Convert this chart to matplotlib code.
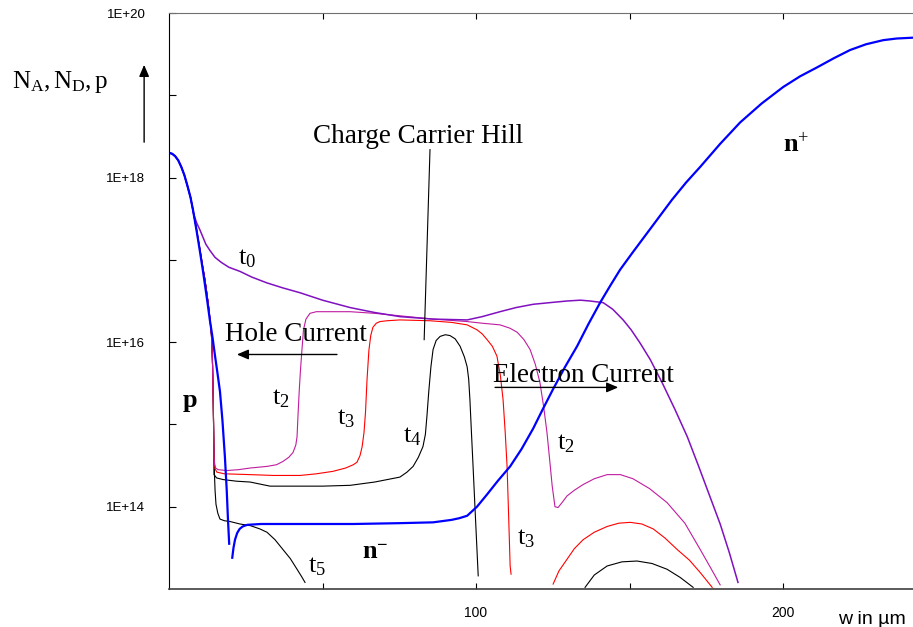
import numpy as np
import matplotlib
matplotlib.use("Agg")
import matplotlib.pyplot as plt

plt.rcParams['mathtext.fontset'] = 'custom'
plt.rcParams['mathtext.rm'] = 'Liberation Serif'
plt.rcParams['mathtext.it'] = 'Liberation Serif:italic'
plt.rcParams['mathtext.bf'] = 'Liberation Serif:bold'

SERIF = 'Liberation Serif'
SANS = 'Liberation Sans'

# ---------------- data (x in µm, y as log10 of concentration) ----------------
# doping profile N_A (p side)
dop_p_x = [0, 1, 2, 3, 4, 5, 6, 7, 7.8, 9, 10, 11, 11.7, 12.5, 13.3, 14.2, 15.0, 15.8, 16.6,
           17.4, 18.2, 18.8, 19.2, 19.6]
dop_p_y = [18.30, 18.29, 18.26, 18.21, 18.13, 18.03, 17.90, 17.76, 17.61, 17.35, 17.12, 16.88,
           16.70, 16.49, 16.27, 16.05, 15.83, 15.62, 15.40, 15.05, 14.61, 14.20, 13.85, 13.55]
# doping profile N_D (n- and n+ side)
dop_n_x = [20.6, 21.0, 21.5, 22.2, 23.0, 24, 25.5, 30, 40, 60, 75, 86, 92, 94.5, 97.1, 100.3,
           103.6, 107, 111.1, 114.8, 118.6, 121.8, 125.1, 129, 132.9, 136.6, 140.4, 143.6, 146.9,
           151, 155, 159.4, 163.8, 168.4, 173.0, 179.5, 186.0, 193, 200, 205.5, 211.1, 216.5,
           221.8, 227, 232.6, 237, 242.3]
dop_n_y = [13.38, 13.50, 13.60, 13.68, 13.73, 13.76, 13.78, 13.79, 13.79, 13.79, 13.80, 13.81,
           13.84, 13.86, 13.89, 14.00, 14.15, 14.31, 14.49, 14.70, 14.95, 15.19, 15.43, 15.70,
           15.95, 16.22, 16.48, 16.68, 16.88, 17.09, 17.29, 17.51, 17.73, 17.94, 18.13, 18.41,
           18.67, 18.90, 19.10, 19.23, 19.34, 19.45, 19.55, 19.62, 19.67, 19.69, 19.70]

# t0 (stationary on-state carrier distribution)
t0_x = [0, 1, 2, 3, 4, 5, 6, 7, 8, 9, 10, 11, 12, 13.4, 15, 17, 19.5, 23.1, 27, 31.9, 37, 42.7,
        50, 59, 67, 75.2, 86, 97.1, 102, 107.8, 113, 118.6, 124, 129.6, 134, 137.1, 141.4,
        144.5, 147.9, 150.5, 153.4, 156.7, 160.7, 164.8, 168.8, 172.5, 176, 179.5, 182.5, 185.3]
t0_y = [18.30, 18.29, 18.26, 18.21, 18.13, 18.03, 17.90, 17.76, 17.56, 17.45, 17.37, 17.28,
        17.19, 17.11, 17.03, 16.97, 16.91, 16.86, 16.79, 16.72, 16.66, 16.60, 16.51, 16.42,
        16.36, 16.31, 16.28, 16.27, 16.31, 16.37, 16.42, 16.46, 16.48, 16.50, 16.51, 16.50,
        16.48, 16.40, 16.27, 16.15, 15.99, 15.79, 15.50, 15.18, 14.85, 14.49, 14.14, 13.79,
        13.44, 13.08]

# common p-side part of the turn-off curves
pside_x = [0, 1, 2, 3, 4, 5, 6, 7, 7.8, 9, 10, 11, 11.7, 12.3, 12.8, 13.4, 13.8, 14.0, 14.2,
           14.4, 14.66]
pside_y = [18.30, 18.29, 18.26, 18.21, 18.13, 18.03, 17.90, 17.76, 17.61, 17.36, 17.14, 16.91,
           16.76, 16.60, 16.46, 16.26, 16.10, 15.95, 15.70, 15.30, 14.61]

t2_x = [14.8, 15.2, 16, 18.9, 22.6, 26.4, 31.9, 35, 37.1, 39, 40.4, 41.3, 41.7, 42.0, 42.4, 42.8,
        43.3, 43.8, 44.6, 45.9, 48, 50.2, 59, 67, 75.2, 86, 97.1, 102, 107.8, 111, 113.4, 115.6,
        117.6, 119.3, 120.8, 122, 123.1, 124, 124.8, 125.7, 126.7, 128, 129.6, 132, 134.9,
        138.5, 142.7, 147, 151.1, 156.5, 162.2, 168, 173.0, 176.5, 179.5]
t2_y = [14.52, 14.47, 14.45, 14.44, 14.45, 14.47, 14.49, 14.51, 14.55, 14.60, 14.66, 14.75,
        14.85, 15.10, 15.40, 15.65, 15.91, 16.15, 16.28, 16.35, 16.37, 16.37, 16.37, 16.35,
        16.32, 16.28, 16.25, 16.23, 16.21, 16.17, 16.12, 16.03, 15.91, 15.73, 15.51, 15.22,
        14.90, 14.56, 14.25, 14.00, 13.99, 14.05, 14.13, 14.20, 14.27, 14.34, 14.39, 14.39,
        14.34, 14.22, 14.05, 13.80, 13.48, 13.25, 13.05]

t3_x = [15.0, 15.6, 18, 26.4, 34, 42.7, 48, 53.4, 57.5, 60, 61.2, 62.2, 62.9, 63.5, 64.0, 64.5,
        65.1, 65.7, 66.4, 67.5, 68.7, 71, 75.2, 85, 92, 97.1, 100.3, 102, 103.6, 105.3, 106.8,
        107.9, 108.8, 109.5, 110.1, 110.6, 111.1, 111.4]
t3_y = [14.46, 14.42, 14.40, 14.39, 14.38, 14.38, 14.40, 14.43, 14.47, 14.51, 14.54, 14.62,
        14.73, 14.90, 15.15, 15.55, 15.90, 16.08, 16.18, 16.23, 16.25, 16.26, 16.27, 16.26,
        16.24, 16.21, 16.15, 16.10, 16.03, 15.95, 15.83, 15.60, 15.30, 14.90, 14.49, 13.90,
        13.28, 13.18]
t3_arc_x = [125.1, 127, 129.6, 132, 134.9, 138.5, 142.7, 146.5, 150.2, 154, 157.7, 161.5, 165.5,
            169.5, 173.0, 176.9]
t3_arc_y = [13.06, 13.22, 13.36, 13.49, 13.60, 13.69, 13.76, 13.80, 13.81, 13.79, 13.73, 13.62,
            13.48, 13.35, 13.20, 13.02]

t4_x = [14.66, 15.5, 17.6, 22, 26.4, 32.9, 42.7, 50, 59, 67, 75.2, 77.5, 79.5, 81.2, 82.7, 83.5,
        84.0, 84.6, 85.3, 86.0, 87, 88.3, 90, 91.5, 93.2, 94.8, 96.2, 97.1, 97.6, 98.0, 98.5,
        99.0, 99.8, 100.7]
t4_y = [14.39, 14.35, 14.33, 14.31, 14.30, 14.25, 14.25, 14.25, 14.26, 14.30, 14.36, 14.42,
        14.49, 14.60, 14.73, 14.88, 15.10, 15.40, 15.70, 15.91, 16.02, 16.07, 16.09, 16.08,
        16.04, 15.95, 15.82, 15.70, 15.55, 15.30, 14.90, 14.51, 13.87, 13.16]
t4_arc_x = [135.5, 138.5, 142.7, 147.5, 152.4, 157.3, 162.2, 166.5, 170.7]
t4_arc_y = [13.02, 13.17, 13.28, 13.33, 13.34, 13.31, 13.24, 13.14, 13.02]

t5_x = [14.8, 15.0, 15.3, 15.9, 16.6, 18, 19.9, 23.1, 26.5, 29.6, 31.9, 34.5, 37.1, 39.5, 41.7,
        43.2, 44.3]
t5_y = [14.40, 14.20, 14.03, 13.92, 13.85, 13.83, 13.82, 13.79, 13.77, 13.73, 13.69, 13.60,
        13.48, 13.37, 13.24, 13.15, 13.08]

y_tick_exp = [14, 15, 16, 17, 18, 19, 20]
y_tick_labels = {14: '1E+14', 16: '1E+16', 18: '1E+18', 20: '1E+20'}
x_ticks = [50, 100, 150, 200]
x_tick_labels = ['', '100', '', '200']

# ---------------- figure ----------------
W, H = 913, 627
fig = plt.figure(figsize=(W / 100, H / 100), dpi=100)
ax = fig.add_axes([169 / W, (H - 589) / H, (W - 169) / W, (589 - 13) / H])
ax.set_yscale('log')
ax.set_xlim(0, 242.3)
ax.set_ylim(1e13, 1e20)


def P(v):
    return np.power(10.0, np.asarray(v, dtype=float))


c_blue = '#0000FF'
c_t0 = '#8010C0'
c_t2 = '#C01CA0'
c_red = '#FF0000'
c_blk = '#000000'

ax.plot(pside_x + t5_x, P(pside_y + t5_y), color=c_blk, lw=0.8)
ax.plot(pside_x + t4_x, P(pside_y + t4_y), color=c_blk, lw=0.8)
ax.plot(t4_arc_x, P(t4_arc_y), color=c_blk, lw=0.8)
ax.plot(pside_x + t3_x, P(pside_y + t3_y), color=c_red, lw=0.8)
ax.plot(t3_arc_x, P(t3_arc_y), color=c_red, lw=0.8)
ax.plot(pside_x + t2_x, P(pside_y + t2_y), color=c_t2, lw=0.8)
ax.plot(t0_x, P(t0_y), color=c_t0, lw=1.1)
ax.plot(dop_p_x, P(dop_p_y), color=c_blue, lw=1.6)
ax.plot(dop_n_x, P(dop_n_y), color=c_blue, lw=1.6)

# axes styling
ax.spines['right'].set_visible(False)
ax.spines['top'].set_color('#707070')
ax.spines['left'].set_color('black')
ax.spines['bottom'].set_color('#404040')
ax.spines['bottom'].set_linewidth(1.2)

ax.set_yticks(P(y_tick_exp))
ax.set_yticklabels([y_tick_labels.get(e, '') for e in y_tick_exp])
ax.yaxis.set_minor_locator(matplotlib.ticker.NullLocator())
ax.tick_params(axis='y', direction='in', length=5, width=0.8, pad=17, labelsize=9.5)
for lab in ax.get_yticklabels():
    lab.set_fontfamily(SANS)
    lab.set_verticalalignment('center_baseline')

ax.set_xticks(x_ticks)
ax.set_xticklabels(x_tick_labels)
ax.tick_params(axis='x', direction='in', length=4, width=0.8, pad=12, labelsize=10,
               top=True)
for lab in ax.get_xticklabels():
    lab.set_fontfamily(SANS)

# ---------------- annotations ----------------
txt = dict(family=SERIF, fontsize=19.5, color='black')
ax.text(46.9, P(18.42), 'Charge Carrier Hill', ha='left', va='baseline', **txt)
ax.plot([85.0, 83.1], P([18.34, 16.03]), color='black', lw=0.8)

ax.text(18.2, P(16.01), 'Hole Current', ha='left', va='baseline', **txt)
ax.annotate('', xy=(22.1, P(15.85)), xytext=(54.7, P(15.85)),
            arrowprops=dict(arrowstyle='-|>,head_length=0.7,head_width=0.3', color='black',
                            lw=1.0, shrinkA=0, shrinkB=0))

ax.text(105.5, P(15.52), 'Electron Current', ha='left', va='baseline', **txt)
ax.annotate('', xy=(146.3, P(15.45)), xytext=(106.2, P(15.45)),
            arrowprops=dict(arrowstyle='-|>,head_length=0.7,head_width=0.3', color='black',
                            lw=1.0, shrinkA=0, shrinkB=0))

lbl = dict(fontsize=19, color='black', ha='left', va='baseline')
ax.text(22.5, P(16.94), r'$\mathrm{t_0}$', **lbl)
ax.text(33.6, P(15.24), r'$\mathrm{t_2}$', **lbl)
ax.text(54.7, P(15.00), r'$\mathrm{t_3}$', **lbl)
ax.text(76.2, P(14.78), r'$\mathrm{t_4}$', **lbl)
ax.text(45.3, P(13.20), r'$\mathrm{t_5}$', **lbl)
ax.text(126.4, P(14.70), r'$\mathrm{t_2}$', **lbl)
ax.text(113.4, P(13.54), r'$\mathrm{t_3}$', **lbl)

ax.text(4.2, P(15.21), r'$\mathbf{p}$', **lbl)
ax.text(62.9, P(13.36), r'$\mathbf{n}^{\mathbf{-}}$', **lbl)
ax.text(200.0, P(18.31), r'$\mathbf{n}^{+}$', **lbl)

ax.text(217.9, P(12.57), 'w in µm', family=SANS, fontsize=14, ha='left', va='baseline',
        clip_on=False)
ax.text(-51.1, P(19.09), r'$\mathrm{N_A, N_D, p}$', fontsize=18, ha='left', va='baseline',
        clip_on=False)
ax.annotate('', xy=(-8.1, P(19.37)), xytext=(-8.1, P(18.43)), annotation_clip=False,
            arrowprops=dict(arrowstyle='-|>,head_length=0.7,head_width=0.3', color='black',
                            lw=1.0, shrinkA=0, shrinkB=0))

fig.savefig('out.png', dpi=100)
